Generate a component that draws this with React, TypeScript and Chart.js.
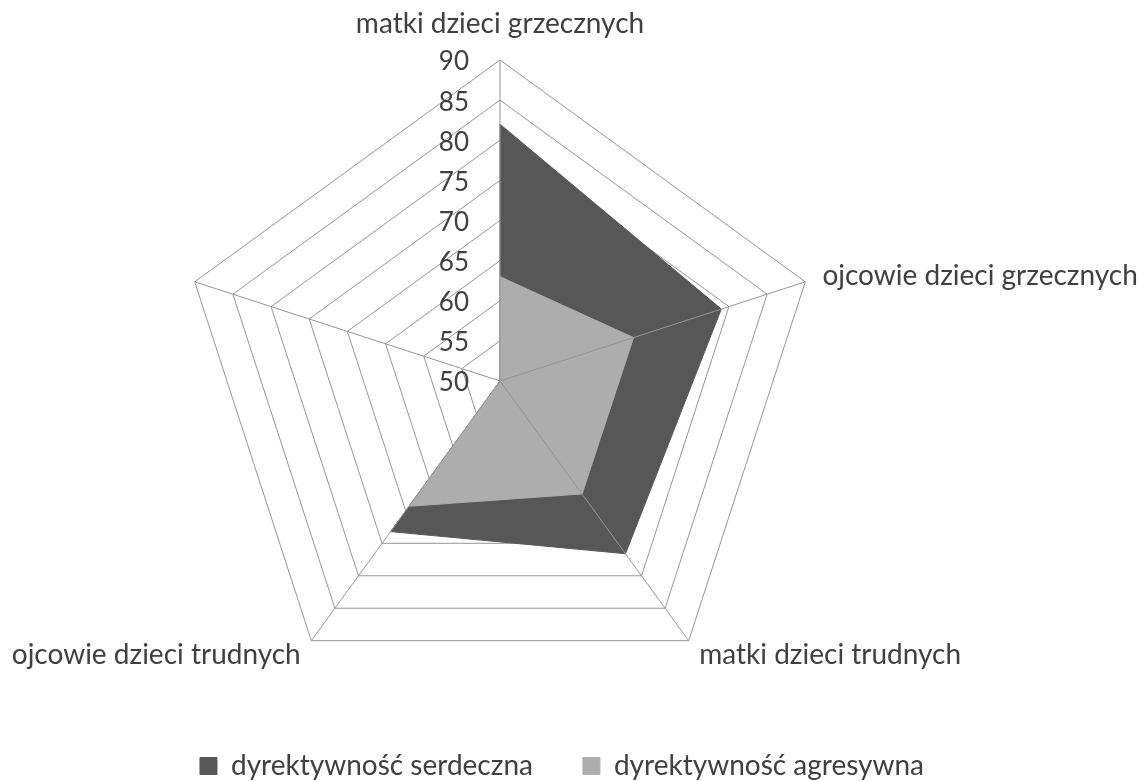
import React, { useEffect, useRef } from "react";
import { Chart, registerables } from "chart.js";

Chart.register(...registerables);

// ---- data ----
const categories: string[] = [
  "matki dzieci grzecznych",
  "ojcowie dzieci grzecznych",
  "matki dzieci trudnych",
  "ojcowie dzieci trudnych",
  "",
];
const serdeczna: number[] = [82, 79, 76.6, 73.2, 50];
const agresywna: number[] = [63, 67.5, 67.4, 69.3, 50];
const seriesNames: string[] = ["dyrektywność serdeczna", "dyrektywność agresywna"];
const axisMin = 50;
const axisMax = 90;
const axisStep = 5;

// ---- styles ----
const FONT = "Lato";
const LABEL_SIZE = 28;
const TICK_SIZE = 26;
const TEXT = "#404040";
const GRID = "#959595";
const DARK = "#575757";
const LIGHT = "#adadad";

const overlayPlugin = {
  id: "overlay",
  afterDatasetsDraw(chart: any) {
    const s = chart.scales.r;
    const ctx = chart.ctx as CanvasRenderingContext2D;
    const labels: string[] = chart.data.labels;
    ctx.save();
    // spokes drawn over the fills
    ctx.strokeStyle = GRID;
    ctx.lineWidth = 1;
    for (let i = 0; i < labels.length; i++) {
      const p = s.getPointPosition(i, s.drawingArea);
      ctx.beginPath();
      ctx.moveTo(s.xCenter, s.yCenter);
      ctx.lineTo(p.x, p.y);
      ctx.stroke();
    }
    // tick labels, left of the vertical axis
    ctx.fillStyle = TEXT;
    ctx.font = `${TICK_SIZE}px ${FONT}`;
    ctx.textAlign = "right";
    ctx.textBaseline = "middle";
    s.ticks.forEach((t: any) => {
      const y = s.yCenter - s.getDistanceFromCenterForValue(t.value);
      ctx.fillText(String(t.value), s.xCenter - 31, y + 2);
    });
    // point labels
    ctx.font = `${LABEL_SIZE}px ${FONT}`;
    labels.forEach((lab, i) => {
      if (!lab) return;
      const ang = s.getIndexAngle(i);
      const sn = Math.sin(ang);
      const cs = Math.cos(ang);
      if (cs > 0.95) {
        const p = s.getPointPosition(i, s.drawingArea + 27);
        ctx.textAlign = "center";
        ctx.textBaseline = "alphabetic";
        ctx.fillText(lab, p.x, p.y);
      } else {
        const p = s.getPointPosition(i, s.drawingArea + 18);
        ctx.textAlign = sn > 0.1 ? "left" : sn < -0.1 ? "right" : "center";
        ctx.textBaseline = "middle";
        ctx.fillText(lab, p.x, p.y);
      }
    });
    ctx.restore();
  },
};

export default function App() {
  const ref = useRef<HTMLCanvasElement | null>(null);
  useEffect(() => {
    if (!ref.current) return;
    const chart = new Chart(ref.current, {
      type: "radar",
      data: {
        labels: categories,
        datasets: [
          {
            label: seriesNames[0],
            data: serdeczna,
            backgroundColor: DARK,
            borderColor: DARK,
            borderWidth: 1,
            fill: true,
            pointRadius: 0,
            order: 1,
          },
          {
            label: seriesNames[1],
            data: agresywna,
            backgroundColor: LIGHT,
            borderColor: LIGHT,
            borderWidth: 1,
            fill: true,
            pointRadius: 0,
            order: 0,
          },
        ],
      },
      options: {
        animation: false,
        responsive: true,
        maintainAspectRatio: false,
        layout: { padding: { top: 60, left: 0, right: 20, bottom: 0 } },
        elements: { line: { tension: 0 } },
        scales: {
          r: {
            min: axisMin,
            max: axisMax,
            ticks: { display: false, stepSize: axisStep },
            grid: { color: GRID, lineWidth: 1 },
            angleLines: { display: false },
            pointLabels: { display: false },
          },
        },
        plugins: {
          tooltip: { enabled: false },
          // empty right-side title used only as a spacer to the right of the radar
          title: {
            display: true,
            position: "right",
            fullSize: false,
            text: " ",
            font: { size: 10, lineHeight: 1.2 },
            padding: 56,
          },
          legend: {
            position: "bottom",
            labels: {
              font: { family: FONT, size: LABEL_SIZE },
              color: TEXT,
              boxWidth: 17,
              boxHeight: 17,
              padding: 50,
              sort: (a: any, b: any) => a.datasetIndex - b.datasetIndex,
            },
          },
        },
      },
      plugins: [overlayPlugin],
    });
    return () => chart.destroy();
  }, []);
  return (
    <div style={{ position: "fixed", left: 0, top: 0, width: 1144, height: 790, background: "#fff" }}>
      <canvas ref={ref} />
    </div>
  );
}
